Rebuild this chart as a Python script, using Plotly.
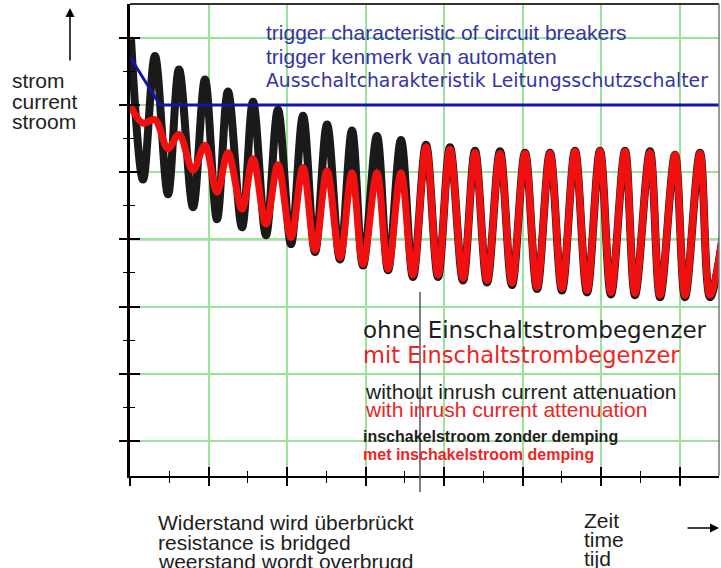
import plotly.graph_objects as go

# ---- data (time in grid divisions, current in grid divisions) ----
black_t = [0.013, 0.166, 0.318, 0.484, 0.624, 0.803, 0.955, 1.108, 1.248, 1.427,
           1.567, 1.732, 1.885, 2.051, 2.204, 2.357, 2.510, 2.675, 2.828, 2.968,
           3.146, 3.287, 3.452, 3.605, 3.771, 3.924, 4.076, 4.242, 4.395, 4.548,
           4.713, 4.866, 5.032, 5.185, 5.350, 5.503, 5.669, 5.822, 5.987, 6.127,
           6.306, 6.433, 6.624, 6.752, 6.943, 7.070, 7.261, 7.389, 7.694]
black_i = [6.98, 4.89, 6.73, 4.67, 6.53, 4.48, 6.38, 4.30, 6.20, 4.18,
           6.05, 4.06, 5.93, 3.93, 5.84, 3.81, 5.71, 3.70, 5.62, 3.61,
           5.54, 3.54, 5.48, 3.44, 5.41, 3.44, 5.37, 3.39, 5.32, 3.36,
           5.31, 3.32, 5.29, 3.26, 5.29, 3.24, 5.32, 3.21, 5.32, 3.18,
           5.32, 3.17, 5.31, 3.14, 5.26, 3.14, 5.29, 3.14, 5.29]

red_t = [0.000, 0.166, 0.318, 0.484, 0.624, 0.803, 0.955, 1.108, 1.248, 1.427,
         1.567, 1.732, 1.885, 2.051, 2.204, 2.357, 2.510, 2.675, 2.828, 2.968,
         3.146, 3.287, 3.452, 3.605, 3.771, 3.924, 4.076, 4.242, 4.395, 4.548,
         4.713, 4.866, 5.032, 5.185, 5.350, 5.503, 5.669, 5.822, 5.987, 6.127,
         6.306, 6.433, 6.624, 6.752, 6.943, 7.070, 7.261, 7.389, 7.694]
red_i = [6.00, 5.73, 5.78, 5.35, 5.56, 5.03, 5.40, 4.70, 5.29, 4.45,
         5.20, 4.23, 5.11, 4.03, 5.07, 3.84, 5.02, 3.73, 4.99, 3.63,
         4.99, 3.56, 4.99, 3.47, 5.38, 3.47, 5.34, 3.42, 5.29, 3.39,
         5.28, 3.35, 5.28, 3.29, 5.28, 3.27, 5.31, 3.24, 5.31, 3.21,
         5.31, 3.20, 5.29, 3.17, 5.26, 3.17, 5.28, 3.17, 5.28]

blue_t = [0.0, 0.382, 7.6]
blue_i = [6.714, 6.0, 6.0]

bridge_t = 3.694           # resistance bridged
x_major = [0, 1, 2, 3, 4, 5, 6, 7]
x_minor = [0.5, 1.5, 2.5, 3.5, 4.5, 5.5, 6.5]
y_major = [1, 2, 3, 4, 5, 6, 7]
y_minor = [1.5, 2.5, 3.5, 4.5, 5.5, 6.5]
X_RANGE = [0, 7.503]
Y_RANGE = [0.479, 7.503]

W, H = 721, 568
L, R, T, B = 130, 2, 4, 92
PW, PH = W - L - R, H - T - B


def px(xp, yp):
    """pixel position -> paper coords"""
    return (xp - L) / PW, (H - B - yp) / PH


GREEN = '#9be39b'
BLUE_T = '#3434a8'
RED_T = '#ee2424'
BLACK_T = '#1e1e1e'

fig = go.Figure()
fig.add_trace(go.Scatter(x=black_t, y=black_i, mode='lines', hoverinfo='skip',
                         line=dict(color='#1a1a1a', width=8, shape='spline', smoothing=1.0)))
fig.add_trace(go.Scatter(x=red_t, y=red_i, mode='lines', hoverinfo='skip',
                         line=dict(color='#f01010', width=7, shape='spline', smoothing=1.0)))
fig.add_trace(go.Scatter(x=blue_t, y=blue_i, mode='lines', hoverinfo='skip', xaxis='x2', yaxis='y2',
                         line=dict(color='#1515a5', width=3)))

common_x = dict(range=X_RANGE, showticklabels=False, zeroline=False, tickmode='array',
                tickvals=x_major, tickcolor='black', tickwidth=1.5)
common_y = dict(range=Y_RANGE, showticklabels=False, zeroline=False, tickmode='array',
                tickvals=y_major, tickcolor='black', tickwidth=1.5)

fig.update_layout(
    width=W, height=H, autosize=False,
    margin=dict(l=L, r=R, t=T, b=B, pad=0),
    paper_bgcolor='white', plot_bgcolor='white', showlegend=False,
    xaxis=dict(**common_x, showgrid=True, gridcolor=GREEN, gridwidth=1.5,
               ticks='outside', ticklen=8, showline=True, linecolor='black', linewidth=2,
               minor=dict(tickmode='array', tickvals=x_minor, ticks='outside', ticklen=5,
                          tickcolor='black', tickwidth=1.2, showgrid=False)),
    yaxis=dict(**common_y, showgrid=True, gridcolor=GREEN, gridwidth=1.5,
               ticks='outside', ticklen=8, showline=True, linecolor='black', linewidth=2.5,
               minor=dict(tickmode='array', tickvals=y_minor, ticks='outside', ticklen=4,
                          tickcolor='black', tickwidth=1.2, showgrid=False)),
    xaxis2=dict(**common_x, overlaying='x', anchor='y2', side='bottom', showgrid=False,
                ticks='inside', ticklen=9, showline=False,
                minor=dict(tickmode='array', tickvals=x_minor, ticks='inside', ticklen=5,
                           tickcolor='black', tickwidth=1.2, showgrid=False)),
    yaxis2=dict(**common_y, overlaying='y', anchor='x2', side='left', showgrid=False,
                ticks='inside', ticklen=10, showline=False,
                minor=dict(tickmode='array', tickvals=y_minor, ticks='inside', ticklen=5,
                           tickcolor='black', tickwidth=1.2, showgrid=False)),
)

shapes = [
    dict(type='line', xref='paper', yref='y', x0=0, x1=1, y0=4, y1=4,
         line=dict(color='#555555', width=1.5), layer='between'),
    dict(type='line', xref='x', yref='paper', x0=bridge_t, x1=bridge_t,
         y0=px(0, 492)[1], y1=px(0, 292)[1], line=dict(color='#555555', width=1.5), layer='above'),
    dict(type='line', xref='paper', yref='paper', x0=0, x1=1, y0=1, y1=1,
         line=dict(color='#333333', width=2)),
    dict(type='line', xref='paper', yref='paper', x0=1, x1=1, y0=0, y1=1,
         line=dict(color='#777777', width=1.5)),
]
fig.update_layout(shapes=shapes)

ann = []


def txt(s, xp, yp, color, size, family='Liberation Sans, Arial, sans-serif'):
    x, y = px(xp, yp)
    ann.append(dict(text=s, x=x, y=y, xref='paper', yref='paper', xanchor='left',
                    yanchor='middle', showarrow=False,
                    font=dict(color=color, size=size, family=family)))


GEO = 'DejaVu Sans, sans-serif'
txt('trigger characteristic of circuit breakers', 264, 33, BLUE_T, 21)
txt('trigger kenmerk van automaten', 264, 56, BLUE_T, 21)
txt('Ausschaltcharakteristik Leitungsschutzschalter', 264, 80, BLUE_T, 18.8, GEO)
txt('ohne Einschaltstrombegenzer', 361, 330, BLACK_T, 23, GEO)
txt('mit Einschaltstrombegenzer', 361, 355, RED_T, 22.5, GEO)
txt('without inrush current attenuation', 363, 391, BLACK_T, 21)
txt('with inrush current attenuation', 363, 409, RED_T, 21)
txt('<b>inschakelstroom zonder demping</b>', 361, 436, BLACK_T, 16)
txt('<b>met inschakelstroom demping</b>', 361, 454, RED_T, 16)
for s, yy in [('strom', 80), ('current', 101), ('stroom', 121)]:
    txt(s, 10, yy, BLACK_T, 21)
for s, yy in [('Widerstand wird überbrückt', 522), ('resistance is bridged', 542),
              ('weerstand wordt overbrugd', 561)]:
    txt(s, 156, yy, BLACK_T, 21)
for s, yy in [('Zeit', 520), ('time', 539), ('tijd', 558)]:
    txt(s, 582, yy, BLACK_T, 21)

# arrows
hx, hy = px(70, 8)
ann.append(dict(text='', x=hx, y=hy, xref='paper', yref='paper', ax=0, ay=54, axref='pixel',
                ayref='pixel', showarrow=True, arrowhead=2, arrowsize=1.2, arrowwidth=1.5,
                arrowcolor='black'))
hx, hy = px(719, 528)
ann.append(dict(text='', x=hx, y=hy, xref='paper', yref='paper', ax=-33, ay=0, axref='pixel',
                ayref='pixel', showarrow=True, arrowhead=2, arrowsize=1.2, arrowwidth=1.5,
                arrowcolor='black'))
fig.update_layout(annotations=ann)

fig.write_html('out.html', config={'displayModeBar': False},
               post_script="document.body.style.margin='0px';document.body.style.overflow='hidden';")
